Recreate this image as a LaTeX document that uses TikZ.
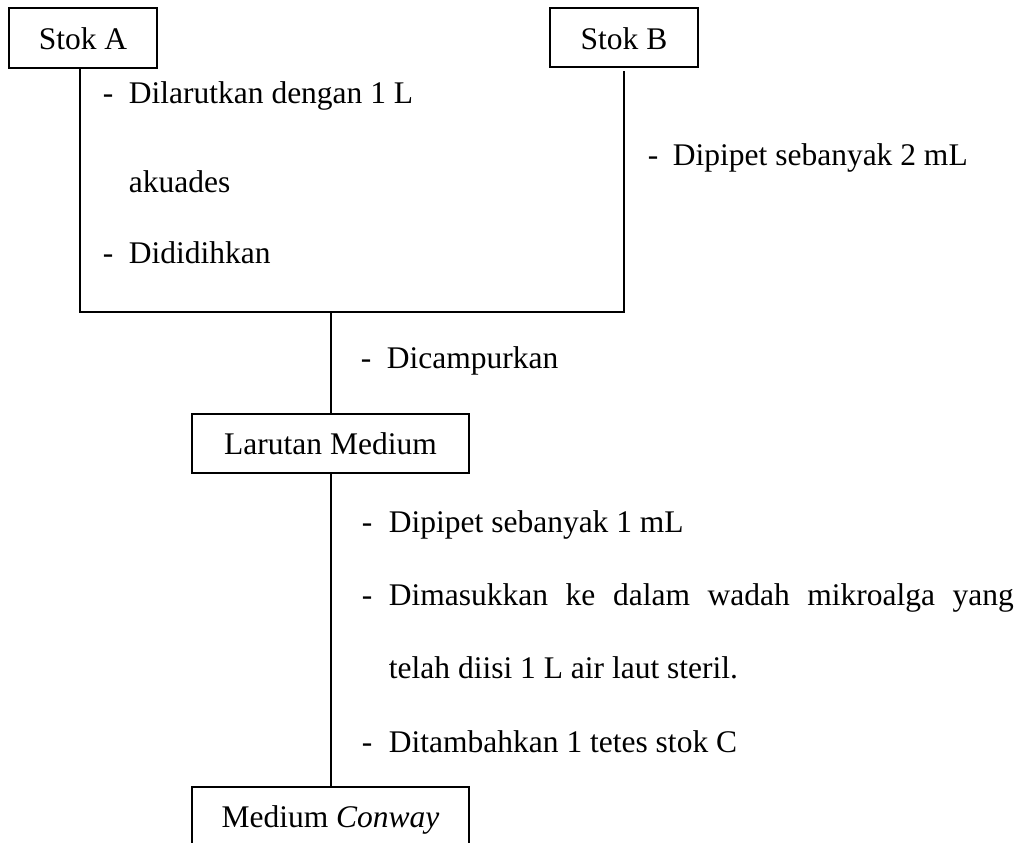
\documentclass[tikz,border=0pt]{standalone}
\usepackage{fontspec}
\setmainfont{Liberation Serif}
\begin{document}
\begin{tikzpicture}[x=1pt,y=-1pt,line width=1.8pt,
  txt/.style={anchor=base west,inner sep=0pt,font=\fontsize{31.5}{38}\selectfont},
  boxnode/.style={draw,anchor=base,inner sep=0pt,line width=1.8pt,font=\fontsize{31.5}{38}\selectfont}]
\useasboundingbox (0,0) rectangle (1020,843);
% boxes
\node[boxnode,minimum width=148pt,text height=42pt,text depth=18pt] (stokA) at (83,50) {Stok A};
\node[boxnode,minimum width=148pt,text height=41pt,text depth=18pt] (stokB) at (624,49) {Stok B};
\node[boxnode,minimum width=277pt,text height=40pt,text depth=19pt] (larutan) at (330.5,454) {Larutan Medium};
\node[boxnode,minimum width=277pt,text height=40pt,text depth=22pt] (conway) at (330.5,827) {Medium \textit{Conway}};
% junctions
\coordinate (jA) at (80,312);
\coordinate (jB) at (624,312);
\coordinate (jM) at (331,312);
\coordinate (sB) at (624,71);
\draw (stokA.south -| jA) -- (jA) -- (jB) -- (sB);
\draw (jM) -- (larutan.north -| jM);
\draw (larutan.south -| jM) -- (conway.north -| jM);
% texts stok A
\node[txt] (d1) at (102,103) {-};
\node[txt] (t1) at (128,103) {Dilarutkan dengan 1 L};
\node[txt] (t1b) at (128,192) {akuades};
\node[txt] (d2) at (102,263) {-};
\node[txt] (t2) at (128,263) {Dididihkan};
% stok B
\node[txt] (d3) at (647,165) {-};
\node[txt] (t3) at (672,165) {Dipipet sebanyak 2 mL};
% mixing
\node[txt] (d4) at (360,368) {-};
\node[txt] (t4) at (386,368) {Dicampurkan};
% lower
\node[txt] (d5) at (361,532) {-};
\node[txt] (t5) at (388,532) {Dipipet sebanyak 1 mL};
\node[txt] (d6) at (361,605) {-};
\node[txt] (t6) at (388,605) {\makebox[625pt][s]{Dimasukkan ke dalam wadah mikroalga yang}};
\node[txt] (t6b) at (388,678) {telah diisi 1 L air laut steril.};
\node[txt] (d7) at (361,752) {-};
\node[txt] (t7) at (388,752) {Ditambahkan 1 tetes stok C};
\end{tikzpicture}
\end{document}
